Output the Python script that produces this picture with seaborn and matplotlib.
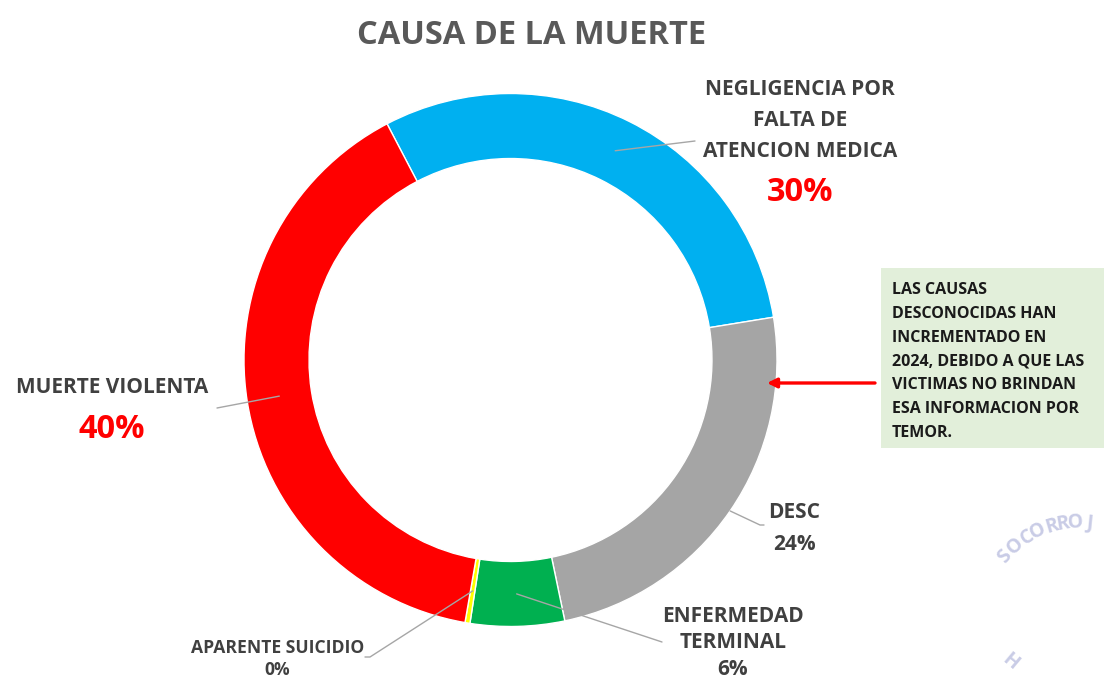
import numpy as np
import matplotlib
matplotlib.use("Agg")
import matplotlib.pyplot as plt
from matplotlib.patches import Rectangle
import seaborn as sns

# ---------------- data ----------------
categories = ["NEGLIGENCIA POR\nFALTA DE\nATENCION MEDICA", "DESC",
              "ENFERMEDAD\nTERMINAL", "APARENTE SUICIDIO", "MUERTE VIOLENTA"]
values = [30.1, 24.3, 5.7, 0.3, 39.6]
colors = ["#00B0F0", "#A5A5A5", "#00B050", "#FFFF00", "#FF0000"]
title = "CAUSA DE LA MUERTE"
note_lines = ["LAS CAUSAS", "DESCONOCIDAS HAN", "INCREMENTADO EN",
              "2024, DEBIDO A QUE LAS", "VICTIMAS NO BRINDAN",
              "ESA INFORMACION POR", "TEMOR."]

sns.set_theme(style="white")
plt.rcParams['font.family'] = ['Open Sans', 'DejaVu Sans']

W, H = 1104, 679
fig = plt.figure(figsize=(W / 100, H / 100), dpi=100)
fig.patch.set_facecolor("white")

cx, cy, R = 510.5, 360.0, 266.5
PAD = 1.02
ax = fig.add_axes([(cx - R * PAD) / W, 1 - (cy + R * PAD) / H,
                   2 * R * PAD / W, 2 * R * PAD / H])
RING = 0.244
wedges, _ = ax.pie(values, colors=colors, startangle=117.6, counterclock=False,
                   radius=1, wedgeprops=dict(width=RING, edgecolor="white",
                                             linewidth=1.0))
ax.set_xlim(-PAD, PAD)
ax.set_ylim(-PAD, PAD)
ax.set_aspect("equal")
ax.axis("off")

# overlay in pixel coordinates
ov = fig.add_axes([0, 0, 1, 1], zorder=5)
ov.set_xlim(0, W)
ov.set_ylim(H, 0)
ov.axis("off")
ov.patch.set_alpha(0)

CAP = 0.714 * 100 / 72  # cap height in px per pt


def put(txt, x, yc, size, color="#404040", ha="center", weight="bold", **kw):
    ov.text(x, yc + 0.5 * CAP * size, txt, fontsize=size, color=color, ha=ha,
            va="baseline", fontweight=weight, **kw)


def wedge_point(i, r):
    w = wedges[i]
    a = np.deg2rad((w.theta1 + w.theta2) / 2)
    return cx + R * r * np.cos(a), cy - R * r * np.sin(a)


lc = "#A6A6A6"
# leader lines (start from the wedge mid angle)
mid_r = 1 - RING / 2
x0, y0 = wedge_point(0, mid_r)
ov.plot([x0, 695], [y0, 141], color=lc, lw=1)
x0, y0 = wedge_point(1, 1.0)
ov.plot([x0, 760, 764], [y0, 525, 525], color=lc, lw=1)
x0, y0 = wedge_point(2, mid_r)
ov.plot([x0, 662], [y0, 642], color=lc, lw=1)
x0, y0 = wedge_point(3, mid_r)
ov.plot([x0, 370, 365], [y0, 657, 657], color=lc, lw=1)
x0, y0 = wedge_point(4, mid_r)
ov.plot([x0, 217], [y0, 408], color=lc, lw=1)

pct = [f"{round(v):.0f}%" for v in values]

# title
put(title, 532, 32, 23.5, color="#595959")

# labels
LS = 15.0
for line, yc in zip(categories[0].split("\n"), [87.5, 119.0, 149.5]):
    put(line, 800, yc, LS)
put(pct[0], 800, 189, 23.5, color="#FF0000")

put(categories[1], 794, 511, LS)
put(pct[1], 794, 543, LS)

for line, yc in zip(categories[2].split("\n"), [614.5, 641]):
    put(line, 733, yc, LS)
put(pct[2], 733, 667.5, LS)

put(categories[3], 277.5, 646.5, 12.6)
put(pct[3], 277.5, 668.5, 12.6)

put(categories[4], 112.5, 385.5, LS)
put(pct[4], 112, 426, 23.5, color="#FF0000")

# note box and arrow
ov.add_patch(Rectangle((881, 268), 240, 180, facecolor="#E2EFDA",
                       edgecolor="none", zorder=1))
for k, line in enumerate(note_lines):
    put(line, 892, 288 + 23.9 * k, 11.5, color="#1A1A1A", ha="left", zorder=2)
ov.annotate("", xy=(767, 383), xytext=(875, 383),
            arrowprops=dict(arrowstyle="-|>", color="#FF0000", lw=2.4,
                            mutation_scale=14, shrinkA=0, shrinkB=0))

# watermark (faint logo text)
wm = "#C9CCE6"
wcx, wcy, wr = 1080, 620, 98
for ch, a in zip("SOCORROJ", [-49.9, -41.5, -32.7, -25.4, -16.6, -10, -2.9, 5.9]):
    ar = np.deg2rad(a)
    ov.text(wcx + wr * np.sin(ar), wcy - wr * np.cos(ar), ch, fontsize=14,
            fontweight="bold", color=wm, ha="center", va="center",
            rotation=-a, rotation_mode="anchor", zorder=0)
ov.text(1010, 662, "H", fontsize=14, fontweight="bold", color=wm, ha="center",
        va="center", rotation=-40, rotation_mode="anchor", zorder=0)

fig.savefig("out.png", dpi=100, facecolor="white")
